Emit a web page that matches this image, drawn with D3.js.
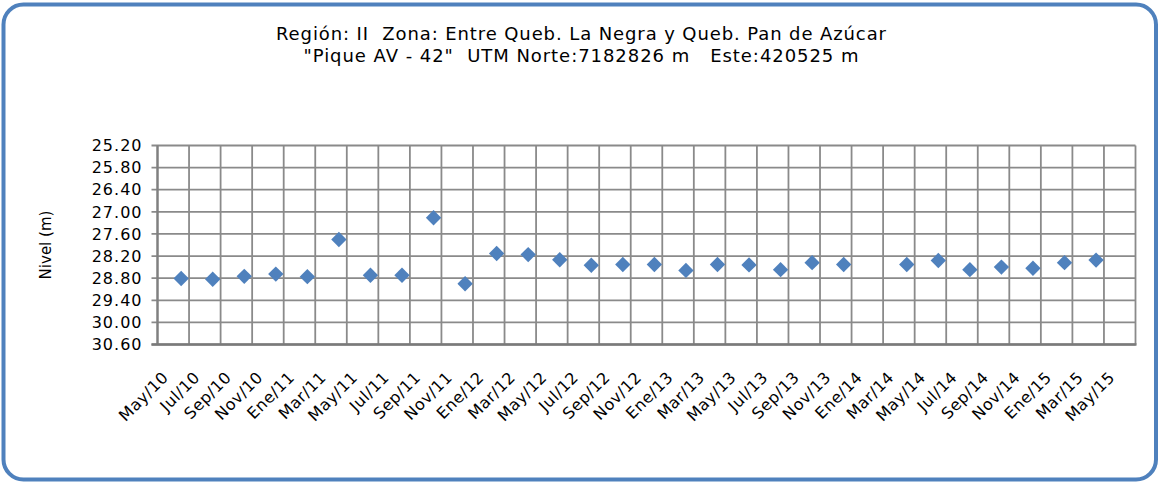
<!DOCTYPE html>
<html>
<head>
<meta charset="utf-8">
<script src="https://cdn.jsdelivr.net/npm/d3@7"></script>
<style>
  html, body { margin: 0; padding: 0; background: #ffffff; }
  svg { display: block; }
  text { font-family: "DejaVu Sans", Verdana, sans-serif; fill: #000; white-space: pre; }
</style>
</head>
<body>
<svg id="chart" width="1159" height="483"></svg>
<script>
// Two-month periods shown on the horizontal axis
const periods = ["May/10","Jul/10","Sep/10","Nov/10","Ene/11","Mar/11","May/11","Jul/11","Sep/11","Nov/11",
  "Ene/12","Mar/12","May/12","Jul/12","Sep/12","Nov/12","Ene/13","Mar/13","May/13","Jul/13",
  "Sep/13","Nov/13","Ene/14","Mar/14","May/14","Jul/14","Sep/14","Nov/14","Ene/15","Mar/15","May/15"];

// Water level (m) read in each period; null = no reading
const levels = [28.81, 28.83, 28.75, 28.69, 28.76, 27.75, 28.72, 28.72, 27.16, 28.95,
  28.13, 28.16, 28.30, 28.45, 28.43, 28.43, 28.59, 28.43, 28.44, 28.57,
  28.38, 28.43, null, 28.43, 28.32, 28.57, 28.50, 28.53, 28.38, 28.31, null];

// Vertical axis ticks (depth grows downward)
const levelTicks = [25.2, 25.8, 26.4, 27.0, 27.6, 28.2, 28.8, 29.4, 30.0, 30.6];

const titleLines = [
  "Región: II  Zona: Entre Queb. La Negra y Queb. Pan de Azúcar",
  "\"Pique AV - 42\"  UTM Norte:7182826 m   Este:420525 m"
];
const titleWidths = [610, 555];
const yTitle = "Nivel (m)";

const svg = d3.select("#chart");
const W = 1159, H = 483;
const plot = { left: 157.5, right: 1135.5, top: 145.5, bottom: 344.5 };
const markerColor = "#4f81bd";
const gridColor = "#8a8a8a";

// Rounded frame
svg.append("rect")
  .attr("x", 3.5).attr("y", 4.5)
  .attr("width", W - 6.5).attr("height", H - 8)
  .attr("rx", 20).attr("ry", 20)
  .attr("fill", "#fff")
  .attr("stroke", "#4f81bd")
  .attr("stroke-width", 4);

// Title
svg.append("g").selectAll("text")
  .data(titleLines).join("text")
  .attr("x", 581)
  .attr("y", (d, i) => 40 + i * 22)
  .attr("text-anchor", "middle")
  .attr("textLength", (d, i) => titleWidths[i])
  .attr("lengthAdjust", "spacing")
  .attr("xml:space", "preserve")
  .style("font-size", "18px")
  .text(d => d);

const x = d3.scaleBand().domain(periods).range([plot.left, plot.right]).padding(0);
const y = d3.scaleLinear().domain([25.2, 30.6]).range([plot.top, plot.bottom]);

const grid = svg.append("g");

// Horizontal gridlines with outward ticks on the left
grid.selectAll("line.h")
  .data(levelTicks).join("line")
  .attr("class", "h")
  .attr("x1", plot.left - 6).attr("x2", plot.right)
  .attr("y1", d => y(d)).attr("y2", d => y(d))
  .attr("stroke", gridColor).attr("stroke-width", 1.8);

// Vertical gridlines at period boundaries
const bounds = periods.map(p => x(p)).concat([x(periods[periods.length - 1]) + x.bandwidth()]);
grid.selectAll("line.v")
  .data(bounds).join("line")
  .attr("class", "v")
  .attr("x1", d => d).attr("x2", d => d)
  .attr("y1", plot.top).attr("y2", plot.bottom)
  .attr("stroke", gridColor).attr("stroke-width", 1.8);

// Axis lines
svg.append("line")
  .attr("x1", plot.left).attr("x2", plot.left)
  .attr("y1", plot.top).attr("y2", plot.bottom)
  .attr("stroke", "#808080").attr("stroke-width", 2.2);
svg.append("line")
  .attr("x1", plot.left - 6).attr("x2", plot.right + 1)
  .attr("y1", plot.bottom).attr("y2", plot.bottom)
  .attr("stroke", "#7a7a7a").attr("stroke-width", 2.4);

// Y tick labels
svg.append("g").selectAll("text")
  .data(levelTicks).join("text")
  .attr("x", plot.left - 15)
  .attr("y", d => y(d))
  .attr("dy", "0.36em")
  .attr("text-anchor", "end")
  .style("font-size", "16px")
  .style("letter-spacing", "1px")
  .text(d => d.toFixed(2));

// X tick labels, rotated
svg.append("g").selectAll("text")
  .data(periods).join("text")
  .attr("transform", d => `translate(${x(d) + x.bandwidth() / 2 - 4},${plot.bottom + 34}) rotate(-45)`)
  .attr("text-anchor", "end")
  .style("font-size", "16px")
  .style("letter-spacing", "0.5px")
  .text(d => d);

// Y axis title
svg.append("text")
  .attr("transform", `translate(51,${(plot.top + plot.bottom) / 2}) rotate(-90)`)
  .attr("text-anchor", "middle")
  .style("font-size", "15px")
  .text(yTitle);

// Diamond markers; readings sit in the later part of each period
const pts = periods.map((p, i) => ({ p, v: levels[i] })).filter(d => d.v != null);
svg.append("g").selectAll("path")
  .data(pts).join("path")
  .attr("d", d3.symbol().type(d3.symbolSquare).size(118))
  .attr("transform", d => `translate(${x(d.p) + x.bandwidth() * 0.75},${y(d.v)}) rotate(45)`)
  .attr("fill", markerColor);
</script>
</body>
</html>
